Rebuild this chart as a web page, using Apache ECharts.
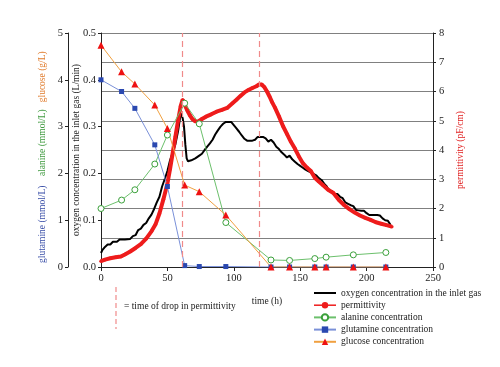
<!DOCTYPE html>
<html>
<head>
<meta charset="utf-8">
<script src="https://cdn.jsdelivr.net/npm/echarts@6/dist/echarts.min.js"></script>
<style>html,body{margin:0;padding:0;background:#fff}#c{width:500px;height:367px}</style>
</head>
<body>
<div id="c"></div>
<script>
// ---- data ----
var sampleTimes = [0, 15.5, 25.5, 40.5, 50, 63, 74, 94, 128, 142, 161, 169.5, 190, 214.5];
var glucoseValues = [4.74, 4.17, 3.91, 3.46, 2.96, 1.75, 1.61, 1.11, 0, 0, 0, 0, 0, 0];
var glutamineValues = [4.0, 3.75, 3.39, 2.61, 1.72, 0.03, 0.01, 0.01, 0, 0, 0, 0, 0, 0];
var alanineValues = [1.25, 1.43, 1.65, 2.2, 2.82, 3.5, 3.06, 0.95, 0.15, 0.14, 0.18, 0.21, 0.26, 0.31];

var oxygenTimes = [0, 1, 3, 5, 7, 9, 12, 14, 18, 22, 24, 26, 28, 30, 32, 34, 36, 38, 40, 42, 44, 46, 48, 50, 52, 54, 56, 58, 60, 60.5, 61.5, 62.5, 63.5, 64.5, 65.5, 66.5, 68, 69.5, 71, 72.5, 74, 76, 78, 80, 82, 84, 86, 88, 90, 92, 94, 96, 98, 100, 102, 104, 106, 108, 110, 112, 114, 116, 118, 120, 122, 124, 126, 128, 130, 132, 134, 136, 138, 140, 142, 144, 146, 148, 150, 152, 154, 156, 158, 160, 162, 164, 166, 168, 170, 172, 174, 176, 178, 180, 182, 184, 186, 188, 190, 192, 194, 196, 198, 200, 202, 204, 206, 208, 210, 212, 214, 216, 218];
var oxygenValues = [0.030, 0.036, 0.043, 0.048, 0.048, 0.054, 0.054, 0.059, 0.059, 0.060, 0.066, 0.068, 0.079, 0.082, 0.090, 0.094, 0.104, 0.112, 0.124, 0.138, 0.150, 0.172, 0.188, 0.205, 0.228, 0.245, 0.262, 0.290, 0.328, 0.330, 0.318, 0.300, 0.262, 0.232, 0.226, 0.222, 0.228, 0.225, 0.232, 0.234, 0.238, 0.242, 0.250, 0.257, 0.264, 0.272, 0.283, 0.292, 0.300, 0.306, 0.310, 0.310, 0.310, 0.303, 0.296, 0.289, 0.281, 0.274, 0.270, 0.270, 0.270, 0.272, 0.278, 0.278, 0.278, 0.275, 0.268, 0.272, 0.266, 0.257, 0.252, 0.245, 0.240, 0.234, 0.238, 0.230, 0.225, 0.220, 0.216, 0.212, 0.208, 0.205, 0.202, 0.199, 0.196, 0.190, 0.186, 0.178, 0.172, 0.162, 0.162, 0.156, 0.156, 0.150, 0.147, 0.138, 0.135, 0.132, 0.130, 0.122, 0.121, 0.120, 0.120, 0.115, 0.111, 0.111, 0.111, 0.111, 0.110, 0.104, 0.100, 0.099, 0.090];

var permTimes = [0, 3, 7, 11, 15, 18, 22, 26, 30, 34, 38, 41, 44, 47, 50, 52, 54, 56, 58, 60, 61.5, 63, 65, 67, 69, 71, 73, 76, 79, 83, 87, 91, 95, 99, 102, 105, 108, 111, 114, 117, 119, 121, 123, 125, 127, 129, 131, 134, 137, 140, 143, 146, 149, 152, 155, 158, 161, 164, 167, 171, 175, 179, 183, 187, 191, 195, 199, 203, 207, 211, 215, 219];
var permValues = [0.20, 0.25, 0.30, 0.33, 0.36, 0.43, 0.53, 0.65, 0.78, 0.97, 1.22, 1.45, 1.83, 2.32, 2.85, 3.35, 3.90, 4.45, 5.00, 5.50, 5.72, 5.55, 5.35, 5.18, 5.05, 4.98, 4.97, 5.06, 5.14, 5.22, 5.31, 5.37, 5.44, 5.60, 5.72, 5.85, 5.97, 6.05, 6.12, 6.18, 6.24, 6.24, 6.15, 6.00, 5.82, 5.62, 5.45, 5.15, 4.82, 4.55, 4.28, 4.05, 3.78, 3.55, 3.40, 3.28, 3.05, 2.92, 2.80, 2.64, 2.53, 2.30, 2.12, 1.98, 1.86, 1.76, 1.68, 1.61, 1.53, 1.48, 1.43, 1.38];

var dropTimes = [61, 119];
var xTicks = [0, 50, 100, 150, 200, 250];

function pairs(t, v) { return t.map(function (x, i) { return [x, v[i]]; }); }

var FONT = 'Liberation Serif';
var chart = echarts.init(document.getElementById('c'), null, {renderer: 'canvas'});
chart.setOption({
  animation: false,
  backgroundColor: '#fff',
  textStyle: {fontFamily: FONT},
  grid: {left: 101, right: 67, top: 33, bottom: 100, containLabel: false},
  xAxis: {
    type: 'value', min: xTicks[0], max: xTicks[xTicks.length - 1], interval: 50,
    name: 'time (h)', nameLocation: 'middle', nameGap: 29, nameMoveOverlap: false,
    nameTextStyle: {fontFamily: FONT, fontSize: 9.5, color: '#222'},
    axisLine: {lineStyle: {color: '#222', width: 1}},
    axisTick: {show: true, length: 4, lineStyle: {color: '#222'}},
    axisLabel: {fontFamily: FONT, fontSize: 10.5, color: '#222', margin: 6},
    splitLine: {show: false}
  },
  yAxis: [
    {
      type: 'value', min: 0, max: 0.5, interval: 0.1, position: 'left',
      name: 'oxygen concentration in the inlet gas (L/min)', nameLocation: 'middle', nameRotate: 90, nameGap: 20, nameMoveOverlap: false,
      nameTextStyle: {fontFamily: FONT, fontSize: 9.5, color: '#222'},
      axisLine: {show: true, lineStyle: {color: '#222'}},
      axisTick: {show: true, length: 3, lineStyle: {color: '#222'}},
      axisLabel: {fontFamily: FONT, fontSize: 10.5, color: '#222', margin: 5, formatter: function (v) { return v.toFixed(1); }},
      splitLine: {show: false}
    },
    {
      type: 'value', min: 0, max: 5, interval: 1, position: 'left', offset: 33,
      name: '{b|glutamine (mmol/L)}    {g|alanine (mmol/L)}   {o|glucose (g/L)}      ',
      nameLocation: 'middle', nameRotate: 90, nameGap: 21, nameMoveOverlap: false,
      nameTextStyle: {fontFamily: FONT, fontSize: 9.5, rich: {
        b: {color: '#3a4fa8', fontFamily: FONT, fontSize: 9.5},
        g: {color: '#3f9a3f', fontFamily: FONT, fontSize: 9.5},
        o: {color: '#e07a2a', fontFamily: FONT, fontSize: 9.5}
      }},
      axisLine: {show: true, lineStyle: {color: '#222'}},
      axisTick: {show: true, length: 3, lineStyle: {color: '#222'}},
      axisLabel: {fontFamily: FONT, fontSize: 10.5, color: '#222', margin: 5},
      splitLine: {show: false}
    },
    {
      type: 'value', min: 0, max: 8, interval: 1, position: 'right',
      name: 'permittivity (pF/cm)', nameLocation: 'middle', nameRotate: 90, nameGap: 22, nameMoveOverlap: false,
      nameTextStyle: {fontFamily: FONT, fontSize: 9.5, color: '#e02020'},
      axisLine: {show: true, lineStyle: {color: '#222'}},
      axisTick: {show: true, length: 3, lineStyle: {color: '#222'}},
      axisLabel: {fontFamily: FONT, fontSize: 10.5, color: '#222', margin: 6},
      splitLine: {show: true, lineStyle: {color: '#808080', width: 1}}
    }
  ],
  legend: {
    orient: 'vertical', left: 313, top: 288, padding: 0, itemGap: 2.2, itemWidth: 22, itemHeight: 8,
    textStyle: {fontFamily: FONT, fontSize: 9.5, color: '#222'},
    data: [
      {name: 'oxygen concentration in the inlet gas', itemStyle: {opacity: 0}, lineStyle: {width: 2}},
      {name: 'permittivity', lineStyle: {width: 1.5}},
      {name: 'alanine concentration'},
      {name: 'glutamine concentration'},
      {name: 'glucose concentration'}
    ]
  },
  graphic: [
    {type: 'line', shape: {x1: 116, y1: 287, x2: 116, y2: 329}, style: {stroke: '#f08a8a', lineWidth: 1.2, lineDash: [5, 3]}},
    {type: 'text', left: 124, top: 301, style: {text: '= time of drop in permittivity', font: '9.5px "Liberation Serif"', fill: '#222'}}
  ],
  series: [
    {
      name: 'oxygen concentration in the inlet gas', type: 'line', yAxisIndex: 0,
      data: pairs(oxygenTimes, oxygenValues), showSymbol: false, symbol: 'none',
      lineStyle: {color: '#000', width: 2}, itemStyle: {color: '#000'},
      markLine: {
        silent: true, symbol: ['none', 'none'], label: {show: false},
        lineStyle: {color: '#f08a8a', type: [6, 4], width: 1.2},
        data: dropTimes.map(function (t) { return {xAxis: t}; })
      }
    },
    {
      name: 'permittivity', type: 'line', yAxisIndex: 2,
      data: pairs(permTimes, permValues), symbol: 'circle', symbolSize: 3.5, showSymbol: true,
      lineStyle: {color: '#ee1c1c', width: 4}, itemStyle: {color: '#ee1c1c'}
    },
    {
      name: 'alanine concentration', type: 'line', yAxisIndex: 1,
      data: pairs(sampleTimes, alanineValues), symbol: 'circle', symbolSize: 6,
      lineStyle: {color: '#6cc06c', width: 1}, itemStyle: {color: '#fff', borderColor: '#3aa03a', borderWidth: 1}
    },
    {
      name: 'glutamine concentration', type: 'line', yAxisIndex: 1,
      data: pairs(sampleTimes, glutamineValues), symbol: 'rect', symbolSize: 5,
      lineStyle: {color: '#7a90d8', width: 1}, itemStyle: {color: '#2a48b0'}
    },
    {
      name: 'glucose concentration', type: 'line', yAxisIndex: 1,
      data: pairs(sampleTimes, glucoseValues), symbol: 'triangle', symbolSize: 7,
      lineStyle: {color: '#f0a040', width: 1}, itemStyle: {color: '#ee1111'}
    }
  ]
});
</script>
</body>
</html>
